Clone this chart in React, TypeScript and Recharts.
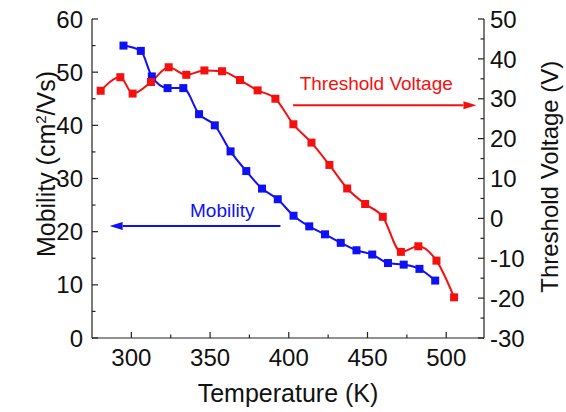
import React from "react"
import {
  ComposedChart, Line, XAxis, YAxis, ReferenceLine
} from "recharts"

// mobility (left axis)
const mobTemps = [295, 306, 313, 323, 333, 343, 353, 363, 373, 383, 393, 403, 413, 423, 433, 443, 453, 463, 473, 483, 493]
const mobValues = [55.0, 54.0, 49.2, 47.0, 47.0, 42.1, 40.0, 35.1, 31.4, 28.1, 26.1, 23.0, 21.0, 19.5, 17.9, 16.5, 15.7, 14.1, 13.8, 13.0, 10.8]

// threshold voltage (right axis)
const vthTemps = [280.5, 293, 300.8, 312.5, 323.7, 334.9, 346.4, 357.6, 369, 380.2, 391.5, 402.9, 414.4, 425.8, 437.1, 448.5, 459.7, 471.2, 482.3, 493.8, 505]
const vthValues = [32.0, 35.4, 31.3, 34.2, 37.9, 36.0, 37.1, 36.9, 34.7, 32.1, 30.0, 23.6, 19.0, 13.4, 7.5, 3.6, 0.4, -8.4, -7.0, -10.6, -19.8]

const xTicks = [300, 325, 350, 375, 400, 425, 450, 475, 500]
const mobTicks = [0, 5, 10, 15, 20, 25, 30, 35, 40, 45, 50, 55, 60]
const vthTicks = [-30, -25, -20, -15, -10, -5, 0, 5, 10, 15, 20, 25, 30, 35, 40, 45, 50]

const BLUE = "#1010f5"
const RED = "#f51010"
const AXIS = "#222"
const TEXT = "#111"
const FONT = "'Liberation Sans', Arial, sans-serif"

const mobData = mobTemps.map((t, i) => ({ t, mob: mobValues[i] }))
const vthData = vthTemps.map((t, i) => ({ t, vth: vthValues[i] }))

function BottomTick({ x, y, payload }: any) {
  const major = payload.value % 50 === 0
  return (
    <g>
      <line x1={x} x2={x} y1={y} y2={y - (major ? 6 : 3.5)} stroke={AXIS} strokeWidth={1.2} />
      {major && (
        <text x={x} y={y + 28} textAnchor="middle" fontSize={24} fill={TEXT} fontFamily={FONT}>
          {payload.value}
        </text>
      )}
    </g>
  )
}

function TopTick({ x, y, payload }: any) {
  const major = payload.value % 50 === 0
  return <line x1={x} x2={x} y1={y} y2={y + (major ? 6 : 3.5)} stroke={AXIS} strokeWidth={1.2} />
}

function LeftTick({ x, y, payload }: any) {
  const major = payload.value % 10 === 0
  return (
    <g>
      <line x1={x} x2={x + (major ? 6 : 3.5)} y1={y} y2={y} stroke={AXIS} strokeWidth={1.2} />
      {major && (
        <text x={x - 9} y={y} dy="0.36em" textAnchor="end" fontSize={24} fill={TEXT} fontFamily={FONT}>
          {payload.value}
        </text>
      )}
    </g>
  )
}

function RightTick({ x, y, payload }: any) {
  const major = payload.value % 10 === 0
  return (
    <g>
      <line x1={x} x2={x - (major ? 6 : 3.5)} y1={y} y2={y} stroke={AXIS} strokeWidth={1.2} />
      {major && (
        <text x={x + 6} y={y} dy="0.36em" textAnchor="start" fontSize={24} fill={TEXT} fontFamily={FONT}>
          {payload.value}
        </text>
      )}
    </g>
  )
}

function squareDot(color: string) {
  return (p: any) => (
    <rect key={`d-${p.index}`} x={p.cx - 4} y={p.cy - 4} width={8} height={8} fill={color} />
  )
}

// arrow from (x1,y1) to (x2,y2) with a text label above it
function arrowShape(color: string, label: string, anchor: "start" | "end", dx: number, dy: number) {
  return (p: any) => {
    const { x1, y1, x2, y2 } = p
    const dir = x2 > x1 ? 1 : -1
    const len = 13
    const lx = anchor === "start" ? Math.min(x1, x2) + dx : Math.max(x1, x2) - dx
    return (
      <g>
        <line x1={x1} y1={y1} x2={x2 - dir * len} y2={y2} stroke={color} strokeWidth={2} />
        <polygon points={`${x2},${y2} ${x2 - dir * len},${y2 - 4} ${x2 - dir * len},${y2 + 4}`} fill={color} />
        <text x={lx} y={y1 - dy} textAnchor={anchor} fontSize={19} fill={color} fontFamily={FONT}>
          {label}
        </text>
      </g>
    )
  }
}

export default function App() {
  return (
    <div style={{ position: "absolute", left: 0, top: 0, width: 566, height: 412, background: "#fff", fontFamily: FONT }}>
      <ComposedChart width={566} height={412} margin={{ top: 19, right: 0, bottom: 0, left: 0 }}>
        <XAxis
          xAxisId="b" type="number" dataKey="t" domain={[275, 524]} ticks={xTicks}
          allowDataOverflow interval={0} height={74} tickSize={0} tickMargin={0}
          tickLine={false} axisLine={{ stroke: AXIS, strokeWidth: 1.2 }} tick={BottomTick}
        />
        <XAxis
          xAxisId="top" orientation="top" type="number" dataKey="t" domain={[275, 524]} ticks={xTicks}
          allowDataOverflow interval={0} height={0} tickSize={0} tickMargin={0}
          tickLine={false} axisLine={{ stroke: AXIS, strokeWidth: 1.2 }} tick={TopTick}
        />
        <YAxis
          yAxisId="left" domain={[0, 60]} ticks={mobTicks} interval={0} width={92}
          tickSize={0} tickMargin={0} tickLine={false} axisLine={{ stroke: AXIS, strokeWidth: 1.2 }} tick={LeftTick}
        />
        <YAxis
          yAxisId="right" orientation="right" domain={[-30, 50]} ticks={vthTicks} interval={0} width={82}
          tickSize={0} tickMargin={0} tickLine={false} axisLine={{ stroke: AXIS, strokeWidth: 1.2 }} tick={RightTick}
        />
        <Line
          data={mobData} dataKey="mob" xAxisId="b" yAxisId="left" type="monotone"
          stroke={BLUE} strokeWidth={2} dot={squareDot(BLUE)} activeDot={false} isAnimationActive={false}
        />
        <Line
          data={vthData} dataKey="vth" xAxisId="b" yAxisId="right" type="monotone"
          stroke={RED} strokeWidth={2} dot={squareDot(RED)} activeDot={false} isAnimationActive={false}
        />
        <ReferenceLine
          xAxisId="b" yAxisId="right" ifOverflow="visible"
          segment={[{ x: 402.7, y: 28.4 }, { x: 519.2, y: 28.4 }]}
          shape={arrowShape(RED, "Threshold Voltage", "start", 6.6, 15.3)}
        />
        <ReferenceLine
          xAxisId="b" yAxisId="left" ifOverflow="visible"
          segment={[{ x: 394.7, y: 21.07 }, { x: 286.2, y: 21.07 }]}
          shape={arrowShape(BLUE, "Mobility", "end", 26, 9.3)}
        />
        <text x={288} y={401.7} textAnchor="middle" fontSize={25} fill={TEXT} fontFamily={FONT}>
          Temperature (K)
        </text>
        <text x={55} y={164} transform="rotate(-90, 55, 164)" textAnchor="middle" fontSize={25} fill={TEXT} fontFamily={FONT}>
          Mobility (cm<tspan dy={-9} fontSize={15}>2</tspan><tspan dy={9}>/Vs)</tspan>
        </text>
        <text x={558} y={176.7} transform="rotate(-90, 558, 176.7)" textAnchor="middle" fontSize={24} fill={TEXT} fontFamily={FONT}>
          Threshold Voltage (V)
        </text>
      </ComposedChart>
    </div>
  )
}
